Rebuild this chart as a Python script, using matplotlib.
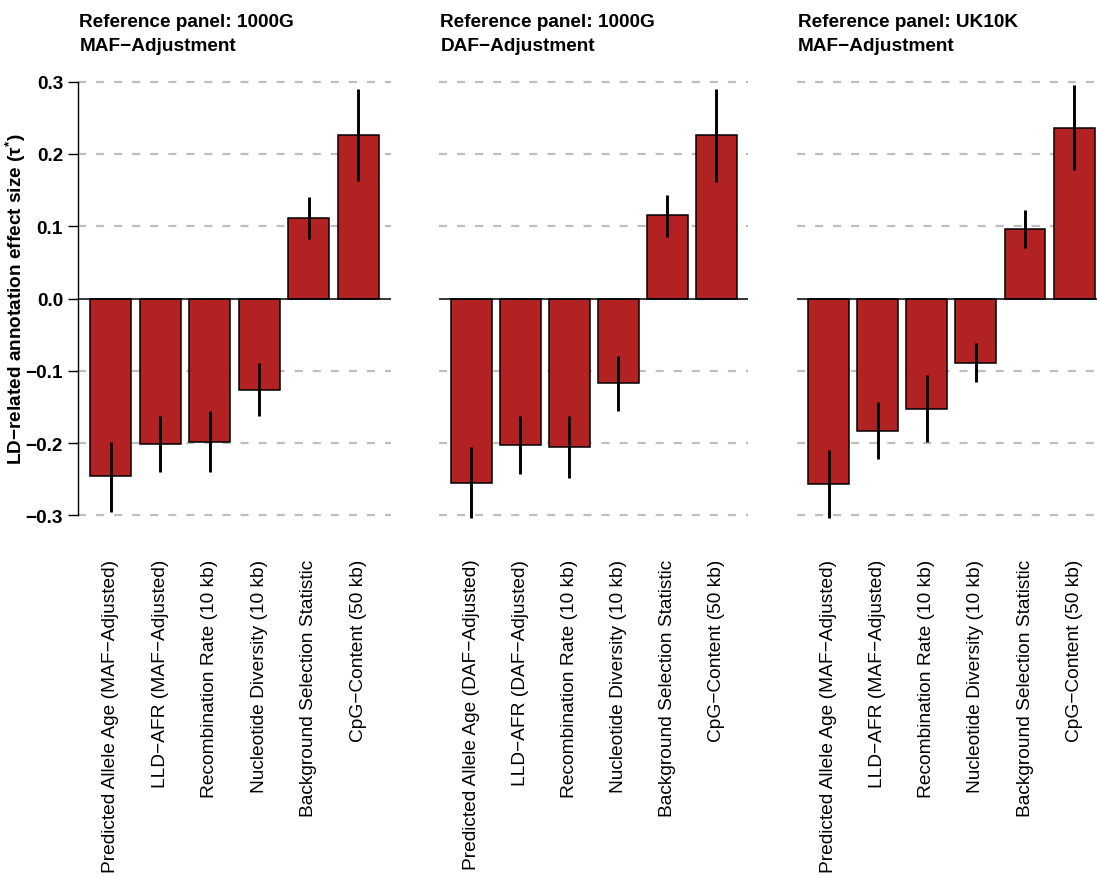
import matplotlib
matplotlib.use("Agg")
import matplotlib.pyplot as plt
import numpy as np

plt.rcParams['font.family'] = ['Liberation Sans', 'DejaVu Sans']
plt.rcParams['mathtext.default'] = 'regular'
plt.rcParams['lines.scale_dashes'] = False

titles = [("Reference panel: 1000G", "MAF\u2212Adjustment"),
          ("Reference panel: 1000G", "DAF\u2212Adjustment"),
          ("Reference panel: UK10K", "MAF\u2212Adjustment")]

cats1 = ["Predicted Allele Age (MAF\u2212Adjusted)", "LLD\u2212AFR (MAF\u2212Adjusted)",
         "Recombination Rate (10 kb)", "Nucleotide Diversity (10 kb)",
         "Background Selection Statistic", "CpG\u2212Content (50 kb)"]
cats2 = ["Predicted Allele Age (DAF\u2212Adjusted)", "LLD\u2212AFR (DAF\u2212Adjusted)",
         "Recombination Rate (10 kb)", "Nucleotide Diversity (10 kb)",
         "Background Selection Statistic", "CpG\u2212Content (50 kb)"]
cats3 = ["Predicted Allele Age (MAF\u2212Adjusted)", "LLD\u2212AFR (MAF\u2212Adjusted)",
         "Recombination Rate (10 kb)", "Nucleotide Diversity (10 kb)",
         "Background Selection Statistic", "CpG\u2212Content (50 kb)"]

tau1 = [-0.246, -0.201, -0.198, -0.126, 0.112, 0.226]
lo1 = [-0.295, -0.240, -0.240, -0.163, 0.083, 0.162]
hi1 = [-0.198, -0.162, -0.155, -0.089, 0.141, 0.290]

tau2 = [-0.255, -0.203, -0.205, -0.117, 0.115, 0.226]
lo2 = [-0.304, -0.243, -0.248, -0.155, 0.085, 0.161]
hi2 = [-0.206, -0.163, -0.162, -0.080, 0.143, 0.290]

tau3 = [-0.257, -0.183, -0.153, -0.089, 0.096, 0.236]
lo3 = [-0.303, -0.222, -0.199, -0.116, 0.070, 0.178]
hi3 = [-0.210, -0.143, -0.106, -0.061, 0.123, 0.295]

yticks = [-0.3, -0.2, -0.1, 0.0, 0.1, 0.2, 0.3]
ytick_labels = ["\u22120.3", "\u22120.2", "\u22120.1", "0.0", "0.1", "0.2", "0.3"]

panels = [(cats1, tau1, lo1, hi1), (cats2, tau2, lo2, hi2), (cats3, tau3, lo3, hi3)]

W, H = 1097, 878
fig = plt.figure(figsize=(W / 100, H / 100), dpi=100)

lefts = [78.4, 439.2, 796.8]
widths = [312.2, 309.2, 309.2]
bottom_px, top_px = 533.7, 65.3
FS = 13.7
FSX = 13.75
bar_color = '#B22222'

for i, (cats, tau, lo, hi) in enumerate(panels):
    ax = fig.add_axes([lefts[i] / W, 1 - bottom_px / H, widths[i] / W, (bottom_px - top_px) / H])
    n = len(cats)
    x = 0.7 + 1.2 * np.arange(n)
    for g in yticks:
        if g != 0:
            ax.axhline(g, color='#BEBEBE', lw=1.6, dashes=(5.8, 7.2), zorder=1)
    ax.bar(x, tau, width=1.0, color=bar_color, edgecolor='black', linewidth=1.1, zorder=2)
    ax.vlines(x, lo, hi, color='black', lw=2.1, zorder=3)
    ax.axhline(0, color='black', lw=1.1, zorder=4)
    ax.set_xlim(-0.08, 7.48)
    ax.set_ylim(-0.324, 0.324)
    for s in ['top', 'right', 'bottom']:
        ax.spines[s].set_visible(False)
    ax.set_xticks(x)
    ax.set_xticklabels(cats, rotation=90, fontsize=FSX)
    ax.tick_params(axis='x', length=0, pad=18.6)
    if i == 0:
        ax.spines['left'].set_bounds(-0.3, 0.3)
        ax.spines['left'].set_linewidth(1.0)
        ax.set_yticks(yticks)
        ax.set_yticklabels(ytick_labels, fontsize=FS, fontweight='bold')
        ax.tick_params(axis='y', length=7, width=1.0, pad=4)
        ax.set_ylabel("LD\u2212related annotation effect size (\u03c4$^{*}$)",
                      fontsize=FS, fontweight='bold')
        ax.yaxis.set_label_coords(-0.161, 0.5)
    else:
        ax.spines['left'].set_visible(False)
        ax.set_yticks([])
    t1, t2 = titles[i]
    fig.text(lefts[i] / W + 0.001, 1 - 27.3 / H, t1, fontsize=FS, fontweight='bold',
             ha='left', va='baseline')
    fig.text(lefts[i] / W + 0.001, 1 - 50.7 / H, t2, fontsize=FS, fontweight='bold',
             ha='left', va='baseline')

fig.savefig("out.png", dpi=100)
